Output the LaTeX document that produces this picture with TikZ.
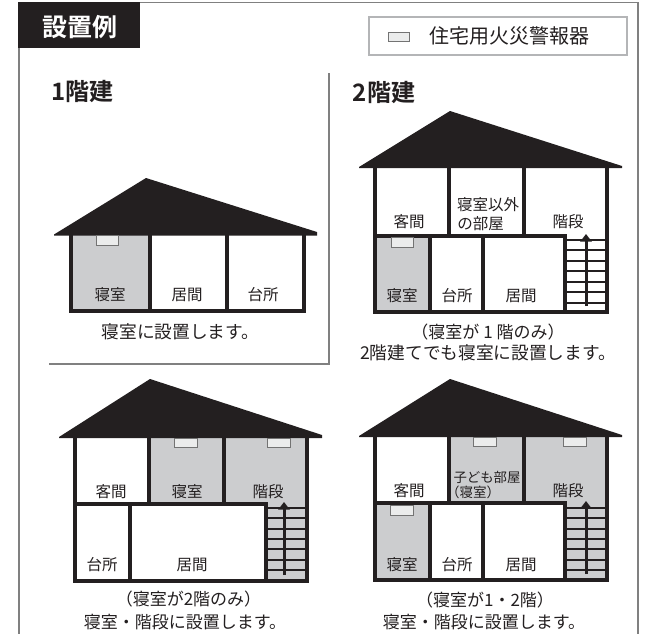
\documentclass[tikz,border=0pt]{standalone}
\usepackage{fontspec}
\setmainfont{Noto Sans CJK JP}[BoldFont={* Bold}]
\usetikzlibrary{arrows.meta}
\definecolor{ink}{HTML}{231F20}
\definecolor{roomgray}{HTML}{CCCDCF}
\definecolor{framegray}{HTML}{808080}
\definecolor{legendgray}{HTML}{B4B5B7}
\definecolor{detfill}{HTML}{EBECEC}
\tikzset{
  x=1pt,y=-1pt,
  roof/.style={fill=ink,draw=none},
  wall/.style={draw=ink,line width=3.2pt,line cap=butt},
  tread/.style={draw=ink,line width=2pt},
  stairup/.style={draw=ink,line width=3pt,-{Triangle[length=7.5pt,width=11pt]}},
  room/.style={fill=roomgray,draw=none},
  detector/.style={draw=black!55,fill=detfill,line width=.7pt},
  rlabel/.style={inner sep=0pt,font=\fontsize{15.5}{17}\selectfont,text=ink,align=center},
  caption/.style={inner sep=0pt,font=\fontsize{17}{20}\selectfont,text=ink,align=center},
  captionwide/.style={caption,font=\fontsize{17.7}{20}\selectfont},
  heading/.style={inner sep=0pt,font=\fontsize{24}{26}\selectfont\bfseries,text=ink},
}
\newcommand{\stairset}[4]{% x1 x2 firsty step
  \foreach \i in {0,...,6}{\draw[tread] (#1,{#3+\i*#4}) -- (#2,{#3+\i*#4});}
}
\begin{document}
\begin{tikzpicture}
\useasboundingbox (0,0) rectangle (656,634);
\fill[white] (0,0) rectangle (656,634);
% outer frame
\draw[framegray,line width=1.5pt] (19,634) -- (19,2.5) -- (638,2.5) -- (638,634);
\fill[ink] (18,2) rectangle (140,48);
\node[inner sep=0pt,text=white,font=\fontsize{25}{27}\selectfont\bfseries] (title) at (79.5,27) {設置例};
% inner L
\draw[framegray,line width=1.5pt] (49,364) -- (329,364) -- (329,73);
% legend
\draw[legendgray,line width=2pt,fill=white] (368.5,17) rectangle (627,55);
\draw[detector] (388,32) rectangle (409,41);
\node[inner sep=0pt,font=\fontsize{20}{22}\selectfont,text=ink] (legend) at (509.5,35.5) {住宅用火災警報器};
\node[heading] (h1) at (82.5,92) {1階建};
\node[heading] (h2) at (384,93) {2階建};

% House 1
\fill[room] (71,235) rectangle (150,311);
\draw[wall] (71,235) -- (71,311) -- (304,311) -- (304,235);
\draw[wall] (150,235) -- (150,312);
\draw[wall] (227,235) -- (227,312);
\fill[roof] (146,178) -- (54,234.5) -- (54,235.5) -- (317,235.5) -- (317,232) -- cycle;
\draw[detector] (96.5,235.5) rectangle (118.5,245);
\node[rlabel] (a1) at (110,295) {寝室};
\node[rlabel] (a2) at (187,295) {居間};
\node[rlabel] (a3) at (263,295) {台所};
\node[captionwide] (ac) at (180.5,332) {寝室に設置します。};

% House 2
\draw[wall] (375,167) -- (375,312) -- (607,312) -- (607,167);
\fill[room] (376,237) rectangle (430,311);
\draw[wall] (375,312) -- (607,312);
\draw[wall] (375,236) -- (565,236) -- (565,312);
\draw[wall] (449,167) -- (449,236);
\draw[wall] (524,167) -- (524,236);
\draw[wall] (430,236) -- (430,312);
\draw[wall] (483,236) -- (483,312);
\draw[wall] (375,236) -- (375,312);
\stairset{566}{606}{239.5}{10.5}
\draw[stairup] (586,306) -- (586,234);
\fill[roof] (450,111) -- (359,167) -- (359,168) -- (622,168) -- (622,166) -- cycle;
\draw[detector] (391,237.5) rectangle (413,247);
\node[rlabel] (b1) at (409,222) {客間};
\node[rlabel] (b2) at (488,205) {寝室以外};
\node[rlabel] (b3) at (480.5,224) {の部屋};
\node[rlabel] (b4) at (568,222) {階段};
\node[rlabel] (b5) at (402,296) {寝室};
\node[rlabel] (b6) at (457,296) {台所};
\node[rlabel] (b7) at (521,296) {居間};
\node[caption] (bc1) at (488,332) {（寝室が 1 階のみ）};
\node[captionwide] (bc2) at (488,353) {2階建てでも寝室に設置します。};

% House 3
\fill[room] (149,437) rectangle (307,503);
\fill[room] (266,503) rectangle (307,581);
\draw[wall] (75,437) -- (75,581) -- (307,581) -- (307,437);
\draw[wall] (75,504) -- (266,504) -- (266,581);
\draw[wall] (149,437) -- (149,504);
\draw[wall] (224,437) -- (224,504);
\draw[wall] (130,504) -- (130,581);
\stairset{267}{306}{508}{10.3}
\draw[stairup] (284,575) -- (284,502);
\fill[roof] (150,379) -- (59,437) -- (59,438) -- (322,438) -- (322,435) -- cycle;
\draw[detector] (174.5,438) rectangle (197,447);
\draw[detector] (267.5,438) rectangle (290,447);
\node[rlabel] (c1) at (111,492) {客間};
\node[rlabel] (c2) at (187,492) {寝室};
\node[rlabel] (c3) at (268,492) {階段};
\node[rlabel] (c4) at (102,565) {台所};
\node[rlabel] (c5) at (192,565) {居間};
\node[caption] (cc1) at (188.5,599) {（寝室が2階のみ）};
\node[caption] (cc2) at (185,622) {寝室・階段に設置します。};

% House 4
\fill[room] (449,436) rectangle (607,502);
\fill[room] (565,502) rectangle (607,580);
\fill[room] (375,503) rectangle (430,580);
\draw[wall] (375,436) -- (375,580) -- (607,580) -- (607,436);
\draw[wall] (375,503) -- (565,503) -- (565,580);
\draw[wall] (449,436) -- (449,503);
\draw[wall] (524,436) -- (524,503);
\draw[wall] (430,503) -- (430,581);
\draw[wall] (483,503) -- (483,581);
\stairset{566}{606}{508}{10.3}
\draw[stairup] (586,574) -- (586,501);
\fill[roof] (450,379) -- (359,436) -- (359,437) -- (622,437) -- (622,435) -- cycle;
\draw[detector] (473.5,437) rectangle (496,446);
\draw[detector] (563,437) rectangle (586,446);
\draw[detector] (390.5,505) rectangle (413,515);
\node[rlabel] (d1) at (409,491) {客間};
\node[rlabel,font=\fontsize{13.4}{15}\selectfont] (d2) at (487,477) {子ども部屋};
\node[rlabel,font=\fontsize{13.5}{15}\selectfont] (d3) at (473,492) {（寝室）};
\node[rlabel] (d4) at (568,491) {階段};
\node[rlabel] (d5) at (402,565) {寝室};
\node[rlabel] (d6) at (457,565) {台所};
\node[rlabel] (d7) at (521,565) {居間};
\node[caption] (dc1) at (485,600) {（寝室が1・2階）};
\node[caption] (dc2) at (484,622) {寝室・階段に設置します。};
\end{tikzpicture}
\end{document}
